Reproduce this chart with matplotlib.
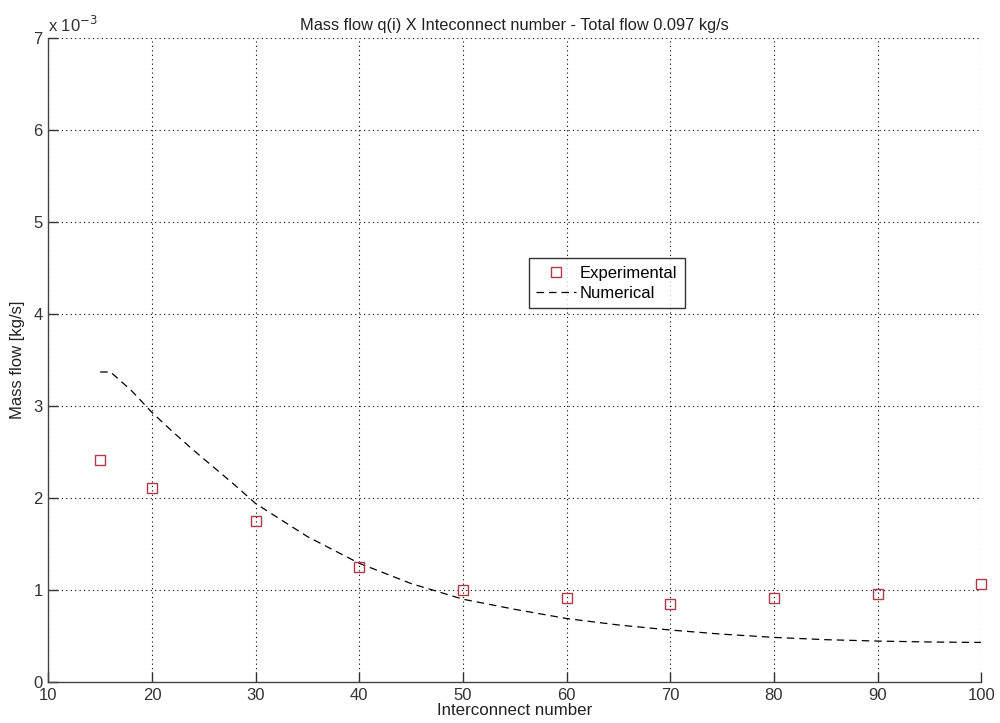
import matplotlib
matplotlib.use("Agg")
import matplotlib.pyplot as plt
from matplotlib.ticker import FixedLocator, FuncFormatter

plt.rcParams['font.family'] = ['Liberation Sans', 'DejaVu Sans']

# Experimental data (x 1e-3 kg/s)
exp_x = [15, 20, 30, 40, 50, 60, 70, 80, 90, 100]
exp_y = [2.41, 2.11, 1.75, 1.25, 1.00, 0.91, 0.85, 0.91, 0.955, 1.06]

# Numerical curve (x 1e-3 kg/s)
num_x = [15, 16, 18, 20, 22, 24, 26, 28, 30, 35, 40, 45, 50, 55, 60, 65, 70, 75, 80, 85, 90, 95, 100]
num_y = [3.37, 3.37, 3.17, 2.93, 2.72, 2.52, 2.33, 2.14, 1.94, 1.58, 1.29, 1.07, 0.90, 0.79, 0.69, 0.62,
         0.565, 0.52, 0.485, 0.46, 0.445, 0.435, 0.43]

x_ticks = [10, 20, 30, 40, 50, 60, 70, 80, 90, 100]
y_ticks = [0, 1, 2, 3, 4, 5, 6, 7]

scale = 1e-3

fig = plt.figure(figsize=(10, 7.23), dpi=100)
ax = fig.add_axes([0.0483, 0.0567, 0.933, 0.8907])

ax.plot(exp_x, [v * scale for v in exp_y], linestyle='none', marker='s', markersize=6.5,
        markerfacecolor='none', markeredgecolor='#b03a48', markeredgewidth=1.0,
        label='Experimental', clip_on=False, zorder=3)
ax.plot(num_x, [v * scale for v in num_y], linestyle=(0, (6, 4)), color='black', linewidth=0.9,
        label='Numerical')

ax.set_xlim(10, 100)
ax.set_ylim(0, 7 * scale)
ax.xaxis.set_major_locator(FixedLocator(x_ticks))
ax.yaxis.set_major_locator(FixedLocator([t * scale for t in y_ticks]))
ax.yaxis.set_major_formatter(FuncFormatter(lambda v, p: f"{v / scale:g}"))

ax.grid(True, linestyle=(0, (1, 3)), color='black', linewidth=0.8)
ax.spines['top'].set_visible(False)
ax.spines['right'].set_visible(False)
for s in ('left', 'bottom'):
    ax.spines[s].set_color('#444444')
    ax.spines[s].set_linewidth(1.0)
ax.tick_params(direction='in', length=7, width=1.0, color='#333333', labelsize=12,
               labelcolor='#333333', pad=4)

ax.set_title('Mass flow q(i) X Inteconnect number - Total flow 0.097 kg/s', fontsize=11.8,
             color='#222222', pad=6)
ax.set_xlabel('Interconnect number', fontsize=12.2, color='#222222', labelpad=0)
ax.set_ylabel('Mass flow [kg/s]', fontsize=12, color='#222222', labelpad=6)

ax.text(0.0, 1.005, 'x 10$^{-3}$', transform=ax.transAxes, fontsize=12, color='#333333',
        ha='left', va='bottom')

leg = ax.legend(loc='upper left', bbox_to_anchor=(0.515, 0.658), fontsize=12, frameon=True,
                fancybox=False, edgecolor='black', handlelength=2.4, handletextpad=0.2,
                borderpad=0.45, labelspacing=0.3, borderaxespad=0)
leg.get_frame().set_linewidth(1.0)

fig.savefig('out.png', dpi=100, facecolor='white')
